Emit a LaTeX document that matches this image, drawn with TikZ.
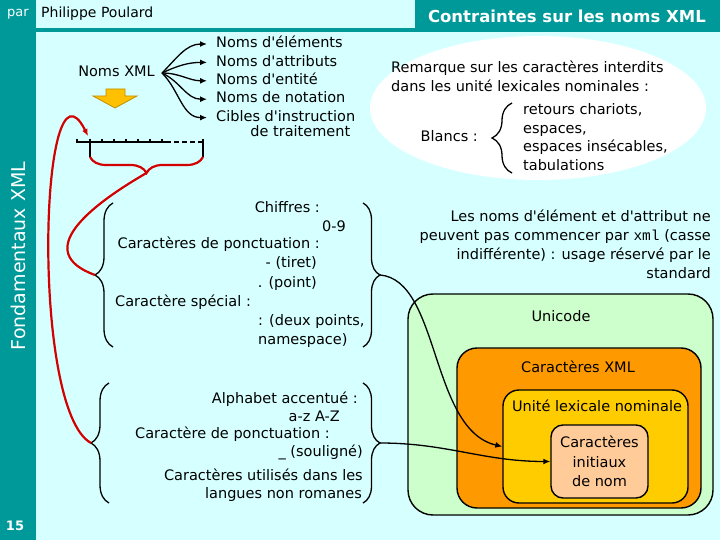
\documentclass[tikz,border=0pt]{standalone}
\usepackage{fontspec}
\setmainfont{DejaVu Sans}[Ligatures=TeXOff]
\setmonofont{Liberation Mono}
\usetikzlibrary{positioning,arrows.meta,decorations.pathreplacing}

\definecolor{slidebg}{RGB}{214,255,255}
\definecolor{barteal}{RGB}{0,153,153}
\definecolor{unigreen}{RGB}{204,255,204}
\definecolor{xmlorange}{RGB}{255,153,0}
\definecolor{lexyellow}{RGB}{255,204,0}
\definecolor{initpeach}{RGB}{255,204,153}
\definecolor{downgold}{RGB}{255,192,0}
\definecolor{linkred}{RGB}{210,0,0}

\begin{document}
\begin{tikzpicture}[
  x=1pt, y=1pt,
  >={Latex[length=7pt,width=6pt]},
  lbl/.style={inner sep=0pt, font=\fontsize{14.5}{18.8}\selectfont, text height=10.5pt, text depth=3pt},
  para/.style={inner sep=0pt, font=\fontsize{14.5}{18.8}\selectfont},
  setbox/.style={draw, line width=1.4pt, rounded corners=#1},
  setbox/.default=15pt,
  curly/.style={decorate, decoration={brace, amplitude=#1}, line width=1.3pt},
  link/.style={line width=1.3pt},
  redlink/.style={draw=linkred, line width=2.2pt},
  ruler/.style={line width=1.3pt}
]
\path[use as bounding box, fill=slidebg] (0,0) rectangle (720,-540);
\fill[barteal] (0,0) rectangle (36,-540);
\fill[barteal] (36,-28) rectangle (415,-32);
\fill[barteal] (415,0) rectangle (720,-32);

\node[text=white, font=\fontsize{13}{15}\selectfont] (par) at (18,-14) {par};
\node[anchor=west, inner sep=0pt, font=\fontsize{14}{16}\selectfont] (author) at (41,-14) {Philippe Poulard};
\node[anchor=east, inner sep=0pt, text=white, font=\fontsize{16.5}{19}\selectfont\bfseries] (title) at (706,-16) {Contraintes sur les noms XML};
\node[rotate=90, text=white, font=\fontsize{19}{22}\selectfont] (chapter) at (18,-256) {Fondamentaux XML};
\node[text=white, font=\fontsize{13}{15}\selectfont\bfseries] (pagenum) at (15,-526) {15};

\node[lbl, anchor=east, inner xsep=7pt] (nomsxml) at (162,-73) {Noms XML};
\node[lbl, anchor=west, inner xsep=9pt] (nomelt) at (207,-44) {Noms d'éléments};
\node[lbl, below=4.5pt of nomelt.south west, anchor=north west, inner xsep=9pt] (nomatt) {Noms d'attributs};
\node[lbl, below=4.5pt of nomatt.south west, anchor=north west, inner xsep=9pt] (noment) {Noms d'entité};
\node[lbl, below=4.5pt of noment.south west, anchor=north west, inner xsep=9pt] (nomnot) {Noms de notation};
\node[lbl, below=4.5pt of nomnot.south west, anchor=north west, inner xsep=9pt] (nomcib) {Cibles d'instruction};
\node[lbl, anchor=north east] (nomcib2) at ([xshift=-14pt, yshift=-1pt]nomcib.south east) {de traitement};

\draw[link, ->] (nomsxml.east) to[out=45,in=180] (nomelt.west);
\draw[link, ->] (nomsxml.east) to[out=25,in=180] (nomatt.west);
\draw[link, ->] (nomsxml.east) to[out=0,in=180] (noment.west);
\draw[link, ->] (nomsxml.east) to[out=-25,in=180] (nomnot.west);
\draw[link, ->] (nomsxml.east) to[out=-45,in=180] (nomcib.west);

\filldraw[fill=downgold, draw=downgold!75!black, line width=0.8pt]
  (106,-89) -- (125,-89) -- (125,-96) -- (137,-96) -- (115,-108) -- (93,-96) -- (106,-96) -- cycle;

\draw[ruler] (77,-139) -- (77,-142) -- (166,-142);
\draw[ruler, dash pattern=on 5pt off 3pt] (166,-142) -- (203,-142);
\draw[ruler] (90,-139) -- (90,-157) (102,-139) -- (102,-142) (114,-139) -- (114,-142)
  (126,-139) -- (126,-142) (138,-139) -- (138,-142) (150,-139) -- (150,-142)
  (162,-139) -- (162,-142) (203,-139) -- (203,-157);
\coordinate (rulerstart) at (88,-136);
\draw[curly=16, draw=linkred, line width=2.2pt] (203,-157) -- (90,-157);
\coordinate (rulerbrace) at (146.5,-173);

\node[lbl, anchor=east] (chiffres) at (320,-209) {Chiffres :};
\node[lbl, anchor=east] (zeronine) at (346,-228) {0-9};
\node[lbl, anchor=east] (ponct) at (320,-245) {Caractères de ponctuation :};
\node[lbl, anchor=east] (tiret) at (317,-264) {- (tiret)};
\node[lbl, anchor=east] (point) at (317,-284) {. (point)};
\node[lbl, anchor=west] (special) at (115,-303) {Caractère spécial :};
\node[lbl, anchor=west] (deuxpts) at (258,-322) {: (deux points,};
\node[lbl, anchor=west] (nmsp) at (258,-341) {namespace)};
\draw[curly=18] (113,-347) -- (113,-203);
\draw[curly=17] (363,-203) -- (363,-347);
\coordinate (digitsl) at (95,-275);
\coordinate (digitsr) at (380,-275);

\node[lbl, anchor=east] (alpha) at (358,-400) {Alphabet accentué :};
\node[lbl, anchor=east] (az) at (340,-418) {a-z A-Z};
\node[lbl, anchor=east] (ponct2) at (330,-435) {Caractère de ponctuation :};
\node[lbl, anchor=east] (souligne) at (363,-453) {\_ (souligné)};
\node[lbl, anchor=east] (nonrom) at (363,-477) {Caractères utilisés dans les};
\node[lbl, anchor=east] (langues) at (362,-495) {langues non romanes};
\draw[curly=18] (109,-503) -- (109,-383);
\draw[curly=17] (363,-383) -- (363,-503);
\coordinate (lettersl) at (91,-443);
\coordinate (lettersr) at (380,-443);

\draw[redlink] (rulerbrace) to[out=210,in=160,looseness=1.5] (digitsl);
\draw[redlink, ->] (lettersl) .. controls (30,-410) and (40,-40) .. (rulerstart);

\fill[white] (538,-108) ellipse [x radius=168pt, y radius=72pt];
\node[para, align=left, anchor=north west] (remark) at (391,-61) {Remarque sur les caractères interdits\\dans les unité lexicales nominales :};
\node[lbl, anchor=east] (blancs) at (478,-138) {Blancs :};
\draw[curly=20] (512,-173) -- (512,-103);
\node[para, align=left, anchor=north west] (blanclist) at (523,-103) {retours chariots,\\espaces,\\espaces insécables,\\tabulations};

\node[para, align=right, anchor=north east] (xmlrule) at (711,-210) {Les noms d'élément et d'attribut ne\\peuvent pas commencer par \texttt{xml} (casse\\indifférente) : usage réservé par le\\standard};

\node[setbox=25pt, fill=unigreen, minimum width=305pt, minimum height=221pt] (unicode) at (560.5,-404.5) {};
\node[setbox=20pt, fill=xmlorange, minimum width=244pt, minimum height=160pt] (xmlchars) at (579,-428) {};
\node[setbox=16pt, fill=lexyellow, minimum width=185pt, minimum height=113pt] (lexnom) at (595.5,-446.5) {};
\node[setbox=12pt, fill=initpeach, minimum width=97pt, minimum height=73pt, align=center, font=\fontsize{14.5}{19.5}\selectfont] (initchars) at (599.5,-461.5) {Caractères\\initiaux\\de nom};
\node[lbl] (unicodelbl) at (561,-318) {Unicode};
\node[lbl] (xmllbl) at (578,-369) {Caractères XML};
\node[lbl] (lexlbl) at (597,-408) {Unité lexicale nominale};

\draw[link, ->] (digitsr) .. controls (440,-280) and (430,-430) .. (lexnom.west);
\draw[link, ->] (lettersr) to[out=0,in=180] (initchars.west);
\end{tikzpicture}
\end{document}
